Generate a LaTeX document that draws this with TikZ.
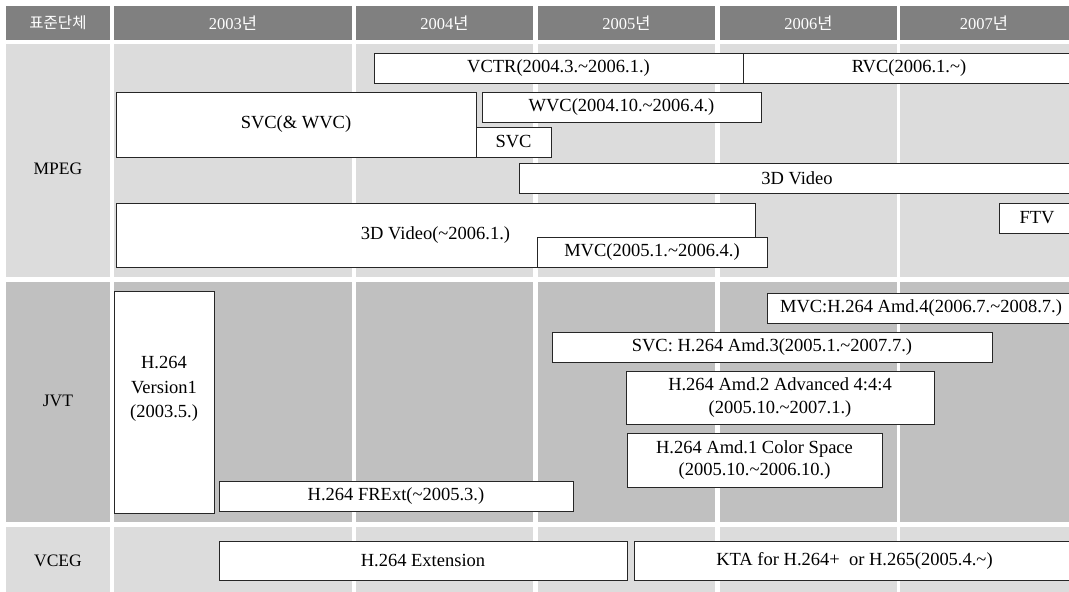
\documentclass[tikz,border=0pt]{standalone}
\usepackage{fontspec}
\setmainfont{Liberation Serif}
\newfontfamily\krfont{Noto Sans CJK KR}
\newcommand{\tld}{\textasciitilde}
\definecolor{headgray}{HTML}{808080}
\definecolor{lightcell}{HTML}{DCDCDC}
\definecolor{darkcell}{HTML}{C0C0C0}
\begin{document}
\begin{tikzpicture}[x=1pt, y=-1pt,
  period/.style={draw=black!85, line width=0.9pt, fill=white, inner sep=0pt,
    align=center, font=\fontsize{18.5}{22.5}\selectfont},
  headtext/.style={text=white, font=\fontsize{16.5}{20}\selectfont},
  orglabel/.style={font=\fontsize{17.5}{20}\selectfont}]
\useasboundingbox (0,0) rectangle (1069,592);
\clip (0,0) rectangle (1069,592);
% Grid of cells
\foreach \xa/\xb in {6/110, 114/352, 356/533, 538/715, 720/897, 900/1075} {
  \fill[headgray] (\xa,6) rectangle (\xb,40);
  \fill[lightcell] (\xa,44) rectangle (\xb,277);
  \fill[darkcell] (\xa,282) rectangle (\xb,522);
  \fill[lightcell] (\xa,527) rectangle (\xb,600);
}
% Header
\node[headtext, font=\krfont\fontsize{15.5}{20}\selectfont] (org) at (58,23) {표준단체};
\foreach \cx/\yr in {233/2003, 444.5/2004, 626.5/2005, 808.5/2006, 984/2007}
  \node[headtext] (y\yr) at (\cx,23) {\yr{\krfont 년}};
% Row labels
\node[orglabel] (mpeg) at (58,169) {MPEG};
\node[orglabel] (jvt) at (58,401) {JVT};
\node[orglabel] (vceg) at (58,561) {VCEG};
% MPEG
\node[period, minimum width=369pt, minimum height=30pt] (vctr) at (558.5,68) {VCTR(2004.3.\tld2006.1.)};
\node[period, minimum width=332pt, minimum height=30pt] (rvc) at (909,68) {RVC(2006.1.\tld)};
\node[period, minimum width=360pt, minimum height=65pt] (svcwvc) at (296,124.5) {SVC(\& WVC)};
\node[period, minimum width=279pt, minimum height=30pt] (wvc) at (621.5,107) {WVC(2004.10.\tld2006.4.)};
\node[period, minimum width=75pt, minimum height=30pt] (svc) at (513.5,142) {SVC};
\node[period, minimum width=556pt, minimum height=30pt] (tdv) at (797,178) {3D Video};
\node[period, minimum width=639pt, minimum height=64pt] (tdvold) at (435.5,235) {3D Video(\tld2006.1.)};
\node[period, minimum width=230pt, minimum height=30pt] (mvc) at (652,252) {MVC(2005.1.\tld2006.4.)};
\node[period, minimum width=76pt, minimum height=30pt] (ftv) at (1037,218) {FTV};
% JVT
\node[period, minimum width=100pt, minimum height=222pt] (ver1) at (164,402) {};
\node[align=center, font=\fontsize{18.5}{24.5}\selectfont] (ver1txt) at ([yshift=13pt]ver1.center) {H.264\\Version1\\(2003.5.)};
\node[period, minimum width=354pt, minimum height=30pt] (frext) at (396,496) {H.264 FRExt(\tld2005.3.)};
\node[period, minimum width=308pt, minimum height=30pt] (amdfour) at (921,308) {MVC:H.264 Amd.4(2006.7.\tld2008.7.)};
\node[period, minimum width=440pt, minimum height=30pt] (amdthree) at (772,347) {SVC: H.264 Amd.3(2005.1.\tld2007.7.)};
\node[period, minimum width=308pt, minimum height=53pt] (amdtwo) at (780,397.5) {H.264 Amd.2 Advanced 4:4:4\\(2005.10.\tld2007.1.)};
\node[period, minimum width=255pt, minimum height=54pt] (amdone) at (754.5,460) {H.264 Amd.1 Color Space\\(2005.10.\tld2006.10.)};
% VCEG
\node[period, minimum width=408pt, minimum height=39pt] (ext) at (423,560.5) {H.264 Extension};
\node[period, minimum width=441pt, minimum height=39pt] (kta) at (854.5,560.5) {KTA for H.264+\ \ or H.265(2005.4.\tld)};
\end{tikzpicture}
\end{document}
